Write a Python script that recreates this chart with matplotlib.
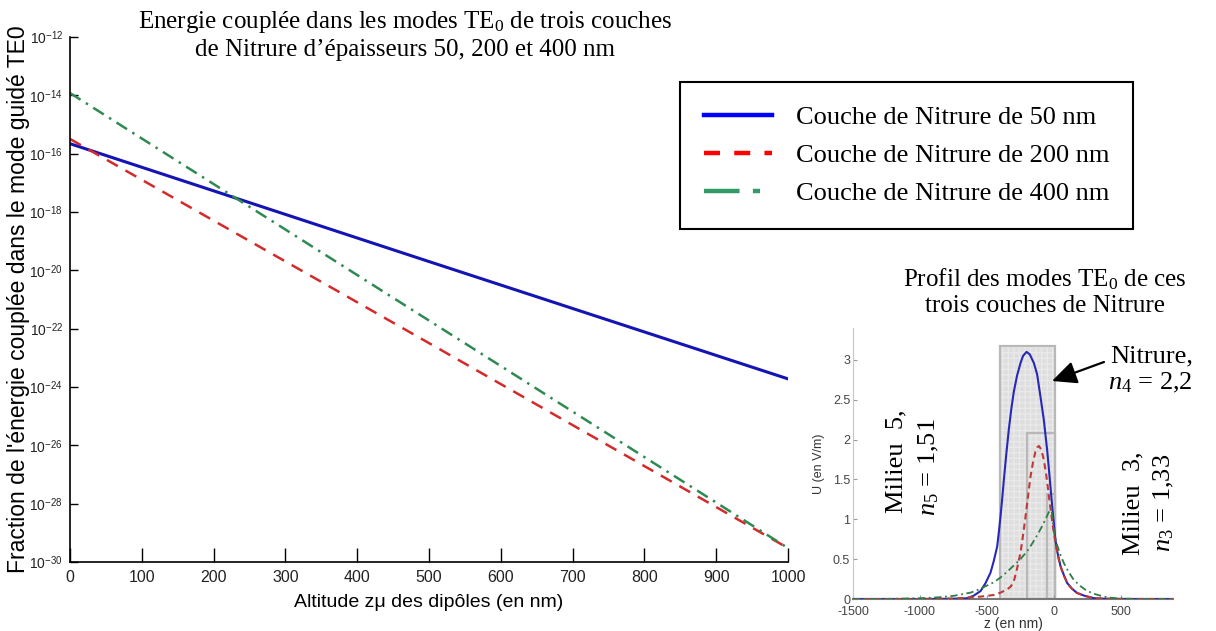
import matplotlib
matplotlib.use("Agg")
import matplotlib.pyplot as plt
from matplotlib import font_manager
from matplotlib.lines import Line2D
from matplotlib.patches import Rectangle, FancyArrowPatch

# main plot: coupled energy vs dipole altitude (straight lines in log scale)
altitude = [0, 500, 1000]
energy_50 = [2.2e-16, 2.0e-20, 1.9e-24]
energy_200 = [3.2e-16, 3.2e-23, 3.0e-30]
energy_400 = [1.2e-14, 1.9e-22, 3.0e-30]
legend_labels = ["Couche de Nitrure de 50 nm", "Couche de Nitrure de 200 nm",
                 "Couche de Nitrure de 400 nm"]
ytick_exp = [-30, -28, -26, -24, -22, -20, -18, -16, -14, -12]
xtick_vals = [0, 100, 200, 300, 400, 500, 600, 700, 800, 900, 1000]

# inset: TE0 mode profiles
z_blue = [-1500, -1000, -800, -700, -647, -600, -547, -510, -473, -448, -423, -410,
          -398, -385, -373, -355, -336, -318, -299, -275, -249, -230, -204, -180,
          -149, -125, -100, -75, -50, -30, -12, 0, 12, 25, 50, 75, 100, 135, 174,
          230, 300, 400, 600, 890]
u_blue = [0, 0, 0.002, 0.005, 0.01, 0.04, 0.1, 0.2, 0.33, 0.48, 0.66, 0.85,
          1.04, 1.27, 1.5, 1.82, 2.13, 2.38, 2.6, 2.8, 2.96, 3.05, 3.10, 3.07,
          2.96, 2.82, 2.54, 2.25, 1.87, 1.5, 1.16, 0.95, 0.74, 0.6, 0.41, 0.3, 0.2,
          0.13, 0.075, 0.04, 0.01, 0.002, 0, 0]
z_red = [-1500, -1000, -746, -547, -450, -398, -348, -320, -299, -275, -249, -230,
         -211, -192, -174, -155, -137, -125, -112, -95, -75, -56, -37, -18, 0, 18,
         37, 65, 100, 135, 174, 230, 300, 450, 890]
u_red = [0, 0, 0.005, 0.03, 0.05, 0.08, 0.12, 0.16, 0.22, 0.38, 0.58, 0.8,
         1.04, 1.3, 1.54, 1.72, 1.85, 1.9, 1.92, 1.88, 1.75, 1.55, 1.29, 1.05, 0.83,
         0.65, 0.49, 0.33, 0.2, 0.13, 0.075, 0.04, 0.01, 0.001, 0]
z_green = [-1500, -1250, -995, -870, -746, -622, -560, -498, -448, -398, -350, -299,
           -249, -199, -160, -124, -92, -62, -40, -20, -10, 0, 20, 45, 75, 110,
           149, 200, 249, 310, 373, 430, 498, 600, 700, 890]
u_green = [0, 0.001, 0.01, 0.02, 0.04, 0.08, 0.12, 0.17, 0.21, 0.27, 0.34, 0.42,
           0.5, 0.6, 0.7, 0.8, 0.9, 1.0, 1.08, 1.15, 1.02, 0.85, 0.7, 0.57, 0.45,
           0.34, 0.24, 0.16, 0.1, 0.06, 0.03, 0.015, 0.005, 0.001, 0, 0]
layer_left = [-400, -200, -50]
layer_height = [3.17, 2.08, 1.32]
inset_xticks = [-1500, -1000, -500, 0, 500]
inset_yticks = [0, 0.5, 1, 1.5, 2, 2.5, 3]

names = {f.name for f in font_manager.fontManager.ttflist}
narrow = "Liberation Sans Narrow" if "Liberation Sans Narrow" in names else "Liberation Sans"

plt.rcParams["font.family"] = ["Liberation Serif", "DejaVu Serif"]
plt.rcParams["mathtext.fontset"] = "custom"
plt.rcParams["mathtext.rm"] = "Liberation Serif"
plt.rcParams["mathtext.it"] = "Liberation Serif:italic"
plt.rcParams["mathtext.sf"] = "Liberation Sans"

W, H = 1216, 631
fig = plt.figure(figsize=(W / 100, H / 100), dpi=100)


def px(x, y):
    return x / W, 1 - y / H


c_blue = "#1414b4"
c_red = "#d42a2a"
c_green = "#2f8a52"

ax = fig.add_axes([70 / W, 1 - 562 / H, 718 / W, 525 / H])
ax.plot(altitude, energy_50, color=c_blue, lw=2.2)
ax.plot(altitude, energy_200, color=c_red, lw=1.8, dashes=(5, 3.5))
ax.plot(altitude, energy_400, color=c_green, lw=1.8, dashes=(5, 2.5, 1, 2.5))
ax.set_yscale("log")
ax.set_ylim(1e-30, 1e-12)
ax.set_xlim(0, 1000)
ax.set_yticks([10.0 ** e for e in ytick_exp])
ax.set_yticklabels(["10$^{\\mathsf{%d}}$" % e for e in ytick_exp],
                   fontfamily="Liberation Sans", fontsize=10, color="#222222")
ax.yaxis.set_minor_locator(matplotlib.ticker.NullLocator())
ax.set_xticks(xtick_vals)
ax.set_xticklabels([str(v) for v in xtick_vals], fontfamily=narrow, fontsize=11.5,
                   color="#222222")
ax.tick_params(axis="y", direction="in", length=6, width=1, pad=5)
ax.tick_params(axis="x", direction="in", length=10, width=1, pad=6)
ax.spines["top"].set_visible(False)
ax.spines["right"].set_visible(False)
ax.spines["left"].set_linewidth(1.2)
ax.spines["bottom"].set_linewidth(1.2)
ax.set_xlabel("Altitude zμ des dipôles (en nm)", fontfamily=narrow, fontsize=14,
              labelpad=6)

fig.text(*px(19, 299), "Fraction de l'énergie couplée dans le mode guidé TE0",
         rotation=90, ha="center", va="center", fontfamily="Liberation Sans",
         fontsize=16.5)

fig.text(*px(405, 35),
         "Energie couplée dans les modes TE$_0$ de trois couches\n"
         "de Nitrure d’épaisseurs 50, 200 et 400 nm",
         ha="center", va="center", fontsize=18, linespacing=1.2)

handles = [Line2D([], [], color="#0000ff", lw=3.2),
           Line2D([], [], color="#ff0000", lw=3.2, dashes=(3.6, 3.2)),
           Line2D([], [], color="#339966", lw=3.2, dashes=(8, 3, 1.6, 3))]
leg = fig.legend(handles, legend_labels, loc="upper left",
                 bbox_to_anchor=px(680, 82), bbox_transform=fig.transFigure,
                 fontsize=19, handlelength=2.6, handletextpad=0.9, borderpad=0.9,
                 labelspacing=0.55, borderaxespad=0, fancybox=False, framealpha=1)
leg.get_frame().set_edgecolor("black")
leg.get_frame().set_linewidth(1.5)

# inset
ax2 = fig.add_axes([853 / W, 1 - 599 / H, 320 / W, 271 / H])
for left, h in zip(layer_left, layer_height):
    ax2.add_patch(Rectangle((left, 0), -left + 10, h, facecolor="#dedede",
                            edgecolor="#e9e9e9", hatch="+++", lw=0, zorder=1))
    ax2.add_patch(Rectangle((left, 0), -left + 10, h, fill=False,
                            edgecolor="#b8b8b8", lw=1.6, zorder=1.5))
ax2.plot(z_blue, u_blue, color="#2828b8", lw=1.5, zorder=3)
ax2.plot(z_red, u_red, color="#c03838", lw=1.5, dashes=(3, 2), zorder=3)
ax2.plot(z_green, u_green, color="#2e7d46", lw=1.3, dashes=(4, 2, 1, 2), zorder=3)
ax2.set_xlim(-1500, 890)
ax2.set_ylim(0, 3.4)
ax2.set_xticks(inset_xticks)
ax2.set_xticklabels([str(v) for v in inset_xticks])
ax2.set_yticks(inset_yticks)
ax2.set_yticklabels(["%g" % v for v in inset_yticks])
for lab in ax2.get_xticklabels() + ax2.get_yticklabels():
    lab.set_fontfamily("Liberation Sans")
    lab.set_fontsize(9)
    lab.set_color("#444444")
ax2.tick_params(direction="in", length=3, color="#999999")
ax2.tick_params(axis="x", pad=5)
ax2.tick_params(axis="y", pad=2)
ax2.spines["top"].set_visible(False)
ax2.spines["right"].set_visible(False)
ax2.spines["left"].set_color("#c8c8c8")
ax2.spines["bottom"].set_color("#777777")
ax2.spines["bottom"].set_linewidth(1.5)
ax2.set_xlabel("z (en nm)", fontfamily="Liberation Sans", fontsize=10,
               color="#333333", labelpad=-1)
ax2.set_ylabel("U (en V/m)", fontfamily="Liberation Sans", fontsize=9,
               color="#333333", labelpad=6)

fig.text(*px(1045, 292), "Profil des modes TE$_0$ de ces\ntrois couches de Nitrure",
         ha="center", va="center", fontsize=18, linespacing=1.2)
fig.text(*px(896, 461), "Milieu  5,", rotation=90, ha="center", va="center",
         fontsize=19)
fig.text(*px(929, 467), "$\\mathit{n}_{\\mathit{5}}$ = 1,51", rotation=90,
         ha="center", va="center", fontsize=19)
fig.text(*px(1133, 503), "Milieu  3,", rotation=90, ha="center", va="center",
         fontsize=19)
fig.text(*px(1164, 503), "$\\mathit{n}_{\\mathit{3}}$ = 1,33", rotation=90,
         ha="center", va="center", fontsize=19)
fig.text(*px(1193, 370), "Nitrure,\n$\\mathit{n}_{\\mathit{4}}$ = 2,2", ha="right",
         va="center", fontsize=19, multialignment="right", linespacing=1.2)
fig.add_artist(FancyArrowPatch(
    px(1104, 362), px(1052, 381), transform=fig.transFigure,
    arrowstyle="-|>,head_length=6,head_width=2.8", color="black", lw=1.6,
    mutation_scale=2.5, shrinkA=0, shrinkB=0))

fig.savefig("out.png", dpi=100)
